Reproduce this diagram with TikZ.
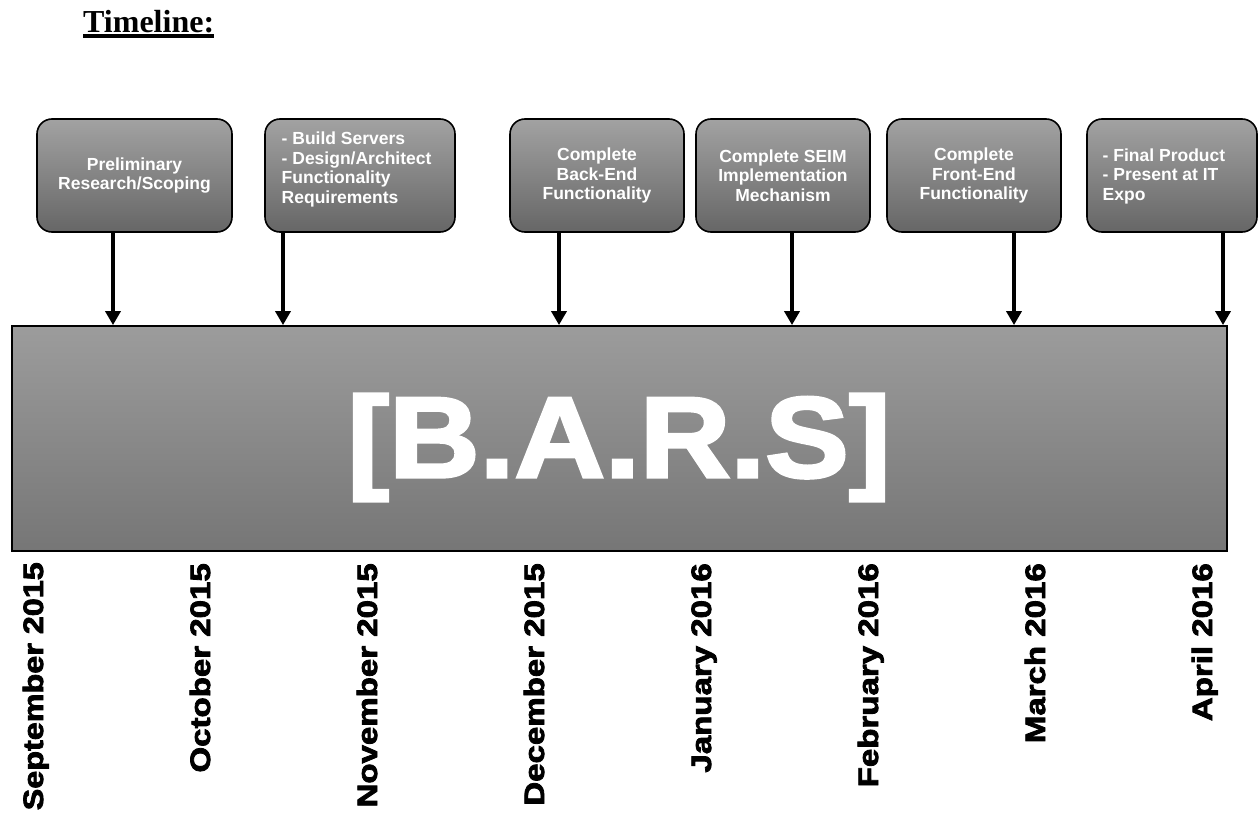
\documentclass[tikz,border=0pt]{standalone}
\usepackage{fontspec}
\usepackage{graphicx}
\usetikzlibrary{arrows.meta,calc}
\newfontfamily\arialf{Liberation Sans}
\newfontfamily\heavyf{Liberation Sans Bold}[FakeBold=2.5]
\newfontfamily\timesf{Liberation Serif}
\newcommand\boxfont{\arialf\bfseries\fontsize{17.5}{19.5}\selectfont}
\newcommand\monthfont{\heavyf\fontsize{28}{28}\selectfont}
\newcommand\barsfont{\heavyf\fontsize{115}{115}\selectfont}
\definecolor{boxtop}{HTML}{A2A2A2}
\definecolor{boxbot}{HTML}{666666}
\definecolor{bartop}{HTML}{9C9C9C}
\definecolor{barbot}{HTML}{767676}
\begin{document}
\begin{tikzpicture}[x=1pt,y=-1pt,
  box/.style={draw=black, line width=1.6pt, rounded corners=15pt,
    top color=boxtop, bottom color=boxbot, minimum width=#1,
    minimum height=113pt, inner sep=0pt, text=white, font=\boxfont, align=center},
  boxtext/.style={inner sep=0pt, text=white, font=\boxfont, align=left},
  barbox/.style={draw=black, line width=1.8pt, top color=bartop, bottom color=barbot,
    minimum width=1215pt, minimum height=225pt, inner sep=0pt},
  arr/.style={line width=4pt, -{Triangle[width=15pt,length=14pt]}},
  month/.style={rotate=90, anchor=base east, inner sep=0pt, font=\monthfont},
]
\useasboundingbox (0,0) rectangle (1260,813);

% title
\node[anchor=base west, inner sep=0pt, font=\timesf\bfseries\fontsize{32}{32}\selectfont] (title) at (83,33) {Timeline:};
\fill ($(title.base west)+(0,1.2)$) rectangle ($(title.base east)+(0,4.6)$);

% milestone boxes
\node[box=195pt] (b1) at (134.5,175.5) {Preliminary\\Research/Scoping};
\node[box=190pt] (b2) at (360,175.5) {};
\node[boxtext, anchor=north west] (b2t) at (281.5,132) {- Build Servers\\- Design/Architect\\Functionality\\Requirements};
\node[box=174pt] (b3) at (597,175.5) {Complete\\Back-End\\Functionality};
\node[box=174pt] (b4) at (783,175.5) {Complete SEIM\\Implementation\\Mechanism};
\node[box=174pt] (b5) at (974,175.5) {Complete\\Front-End\\Functionality};
\node[box=170pt] (b6) at (1172,175.5) {};
\node[boxtext, anchor=west] (b6t) at (1102.5,176) {- Final Product\\- Present at IT\\Expo};

% main bar
\node[barbox] (bar) at (619.5,438.5) {};
\node[inner sep=0pt, text=white, font=\barsfont] (bars) at (619,447.5) {\scalebox{1.09}[1]{[B.A.R.S]}};

% arrow positions
\coordinate (x1) at (113,0);
\coordinate (x2) at (283,0);
\coordinate (x3) at (559,0);
\coordinate (x4) at (792,0);
\coordinate (x5) at (1014,0);
\coordinate (x6) at (1223,0);

\draw[arr] (b1.south -| x1) -- (bar.north -| x1);
\draw[arr] (b2.south -| x2) -- (bar.north -| x2);
\draw[arr] (b3.south -| x3) -- (bar.north -| x3);
\draw[arr] (b4.south -| x4) -- (bar.north -| x4);
\draw[arr] (b5.south -| x5) -- (bar.north -| x5);
\draw[arr] (b6.south -| x6) -- (bar.north -| x6);

% months
\node[month] (m1) at (43,562) {\scalebox{1.155}[1]{September 2015}};
\node[month] (m2) at (210,563) {\scalebox{1.18}[1]{October 2015}};
\node[month] (m3) at (377,563) {\scalebox{1.18}[1]{November 2015}};
\node[month] (m4) at (544,563) {\scalebox{1.18}[1]{December 2015}};
\node[month] (m5) at (711,563) {\scalebox{1.18}[1]{January 2016}};
\node[month] (m6) at (878,563) {\scalebox{1.18}[1]{February 2016}};
\node[month] (m7) at (1045,563) {\scalebox{1.18}[1]{March 2016}};
\node[month] (m8) at (1212,563) {\scalebox{1.18}[1]{April 2016}};
\end{tikzpicture}
\end{document}
